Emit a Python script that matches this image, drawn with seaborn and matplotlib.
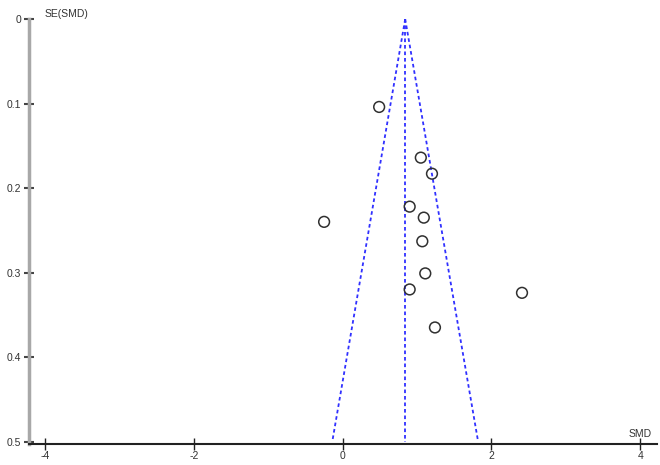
import pandas as pd
import numpy as np
import matplotlib
matplotlib.use("Agg")
import matplotlib.pyplot as plt
import seaborn as sns

# study effects (SMD) and standard errors
smd = [0.49, 1.05, 1.20, 0.90, 1.09, -0.25, 1.07, 1.11, 0.90, 2.41, 1.24]
se_smd = [0.104, 0.164, 0.183, 0.222, 0.235, 0.240, 0.263, 0.301, 0.320, 0.324, 0.365]

pooled_smd = 0.84
funnel_se = [0.0, 0.5]
x_ticks = [-4, -2, 0, 2, 4]
y_ticks = [0, 0.1, 0.2, 0.3, 0.4, 0.5]

studies = pd.DataFrame({"SMD": smd, "SE": se_smd})
funnel = pd.DataFrame({
    "SE": funnel_se * 3,
    "SMD": [pooled_smd - 1.96 * s for s in funnel_se]
    + [pooled_smd + 1.96 * s for s in funnel_se]
    + [pooled_smd for s in funnel_se],
    "line": ["lower"] * 2 + ["upper"] * 2 + ["center"] * 2,
})

sns.set_style("white")
plt.rcParams["font.family"] = ["Liberation Sans", "DejaVu Sans"]

fig = plt.figure(figsize=(6.6, 4.65), dpi=100)
ax = fig.add_axes([0.044, 0.045, 0.9515, 0.914])

for name, grp in funnel.groupby("line"):
    sns.lineplot(data=grp, x="SMD", y="SE", ax=ax, color="#3030ff",
                 linewidth=1.3, linestyle=(0, (2, 1.6)), sort=False,
                 estimator=None, legend=False)

sns.scatterplot(data=studies, x="SMD", y="SE", ax=ax, marker="o", s=60,
                facecolor="none", edgecolor="#303030", linewidth=1.1, zorder=3)

ax.set_xlim(-4.216, 4.225)
ax.set_ylim(0.503, 0)
ax.set_xticks(x_ticks)
ax.set_xticklabels([str(t) for t in x_ticks])
ax.set_yticks(y_ticks)
ax.set_yticklabels(["0", "0.1", "0.2", "0.3", "0.4", "0.5"])
ax.set_xlabel("")
ax.set_ylabel("")

sns.despine(ax=ax)
ax.spines["left"].set_color("#a8a8a8")
ax.spines["left"].set_linewidth(2.5)
ax.spines["bottom"].set_color("#222222")
ax.spines["bottom"].set_linewidth(1.5)
ax.tick_params(axis="x", direction="inout", length=8, width=1, color="#222222",
               labelsize=7.5, labelcolor="#333333", pad=1, bottom=True)
ax.tick_params(axis="y", direction="inout", length=7, width=1.5, color="#444444",
               labelsize=7.5, labelcolor="#333333", pad=2, left=True)

ax.text(0.025, 1.0, "SE(SMD)", transform=ax.transAxes, fontsize=7.5,
        color="#333333", va="bottom", ha="left")
ax.text(4.0, 0.497, "SMD", fontsize=7.5, color="#333333", va="bottom", ha="center")

fig.savefig("out.png", dpi=100)
